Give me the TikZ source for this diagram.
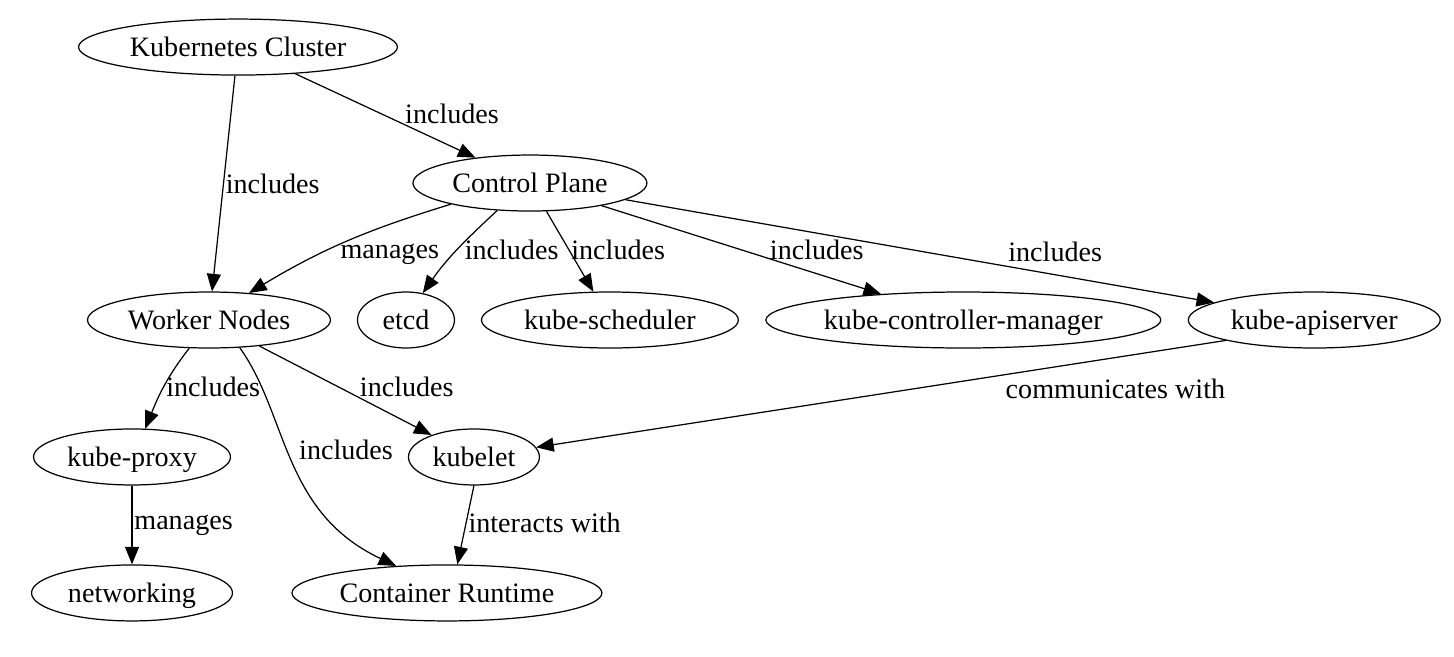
\documentclass[tikz,border=0pt]{standalone}
\usepackage{fontspec}
\setmainfont{Liberation Serif}
\usetikzlibrary{shapes.geometric, positioning, arrows.meta}
\tikzset{
  ->, % every connector is directed
  >={Triangle[length=10pt, width=8pt]}, % solid heads as in the dot drawing
  part/.style={draw, ellipse, inner sep=0pt, minimum height=1.12cm,
    text height=12.5pt, text depth=2pt}, % one oval per component
  tag/.style={inner sep=1pt}, % text sitting on a connector
}

\begin{document}
\begin{tikzpicture}[x=0.02cm, y=-0.02cm, on grid, line width=0.7pt, font=\fontsize{16}{19}\selectfont]
    \useasboundingbox (0,0) rectangle (1454,656);

    \node[part, minimum width=4.86cm] (workers) at (209,320) {Worker Nodes};
    \node[part, minimum width=6.38cm] (cluster) [above right=5.46cm and .58cm of workers] {Kubernetes Cluster};
    \node[part, minimum width=4.68cm] (cp) [above right=2.74cm and 6.42cm of workers] {Control Plane};
    \node[part, minimum width=1.94cm] (etcd) [right=3.94cm of workers] {etcd};
    \node[part, minimum width=5.14cm] (sched) [right=4.08cm of etcd] {kube-scheduler};
    \node[part, minimum width=7.9cm] (ctrl) [right=7.07cm of sched] {kube-controller-manager};
    \node[part, minimum width=5.04cm] (api) [right=7.02cm of ctrl] {kube-apiserver};
    \node[part, minimum width=3.94cm] (proxy) [below left=2.74cm and 1.54cm of workers] {kube-proxy};
    \node[part, minimum width=2.62cm] (kubelet) [right=6.84cm of proxy] {kubelet};
    \node[part, minimum width=4.02cm] (net) [below=2.72cm of proxy] {networking};
    \node[part, minimum width=6.2cm] (cr) [right=6.3cm of net] {Container Runtime};

    \path[->]
    (cluster) edge node[tag, pos=.5, right] {includes} (workers)
              edge node[tag, pos=.48, right, xshift=.42cm] {includes} (cp)
    (cp) edge node[tag, pos=.48, right] {includes} (sched)
         edge node[tag, pos=.77, above, yshift=.23cm] {includes} (ctrl)
         edge node[tag, pos=.73, above, yshift=.21cm] {includes} (api)
    (cp.195) edge[out=197, in=31] node[tag, pos=.5, xshift=.86cm, yshift=-.26cm] {manages} (workers.34)
    (cp.220) edge[out=223, in=55] node[tag, pos=.5, right, xshift=.1cm] {includes} (etcd.58)
    (workers) edge node[tag, pos=.46, right, xshift=.38cm] {includes} (kubelet)
    (workers.235) edge[out=232, in=68] node[tag, pos=.5, right] {includes} (proxy.65)
    (api.193) edge node[tag, pos=.16, below, yshift=-.38cm] {communicates with} (kubelet)
    (proxy) edge node[tag, pos=.5, right] {manages} (net)
    (kubelet.-90) edge node[tag, pos=.47, right] {interacts with} (cr.70);

    \draw[->] (workers.-42) .. controls (288,415) and (282,512) .. (cr.152)
        node[tag, pos=.45, right, xshift=.18cm] {includes};
\end{tikzpicture}
\end{document}
